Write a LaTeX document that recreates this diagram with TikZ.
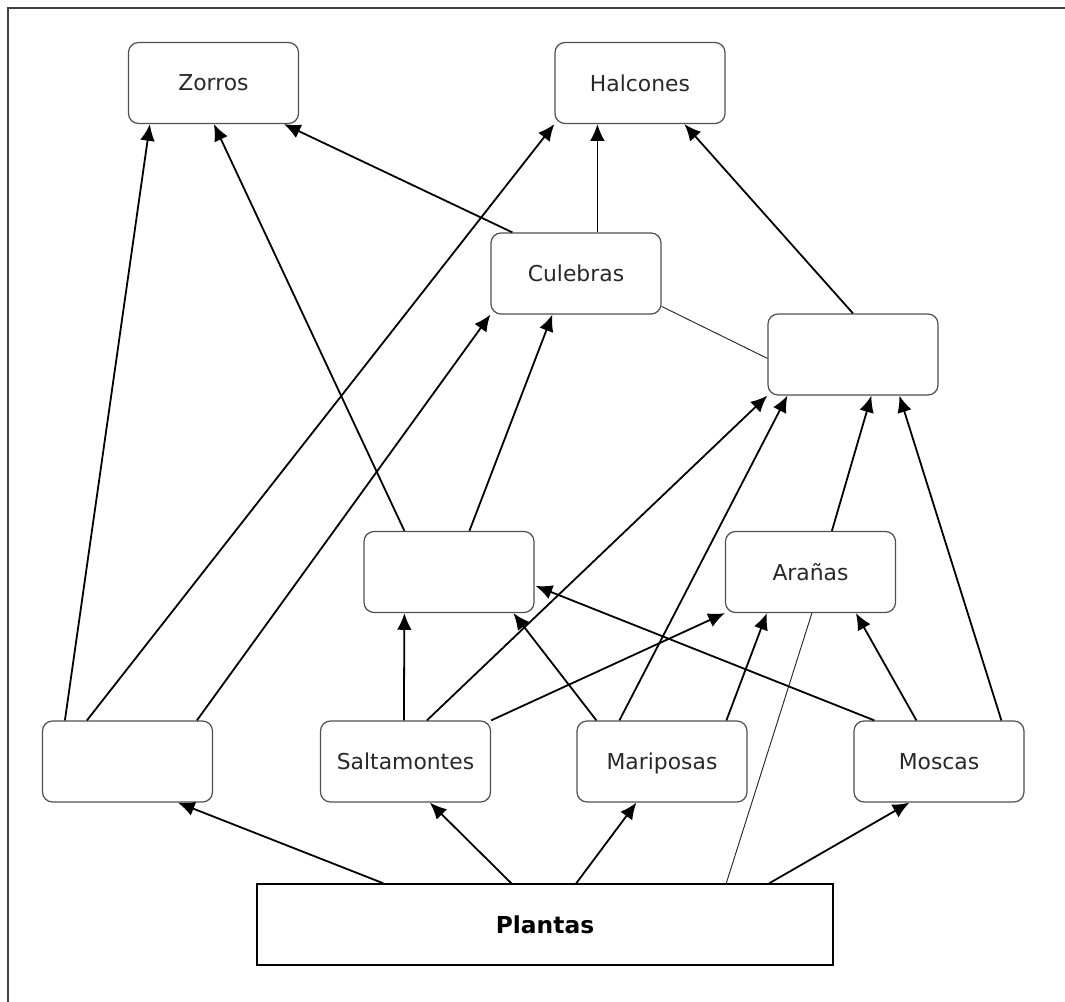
\documentclass[tikz,border=0pt]{standalone}
\usepackage{fontspec}
\setmainfont{DejaVu Sans}
\usetikzlibrary{arrows.meta,calc}
\definecolor{boxgray}{RGB}{80,80,80}
\definecolor{txtgray}{RGB}{40,40,40}
\begin{document}
\begin{tikzpicture}[x=0.75pt,y=-0.75pt,
  box/.style={draw=boxgray, line width=0.9pt, rounded corners=7.5pt,
    minimum width=127.5pt, minimum height=60.75pt, inner sep=0pt,
    text depth=0pt, font=\fontsize{16.4}{19}\selectfont, text=txtgray},
  base/.style={draw=black, line width=1.1pt, minimum width=432pt,
    minimum height=60.75pt, inner sep=0pt, text depth=0pt,
    font=\bfseries\fontsize{17.5}{21}\selectfont},
  arr/.style={-{Latex[length=12.5pt,width=11pt]}, line width=1.35pt},
  thinline/.style={line width=0.7pt, draw=black!85},
  frame/.style={line width=1.1pt, draw=black!75}]
\useasboundingbox (0,0) rectangle (1065,1002);
\draw[frame] (8,1002) -- (8,8) -- (1065,8);

\node[box] (zor) at (213.5,83) {Zorros};
\node[box] (hal) at (640,83) {Halcones};
\node[box] (cul) at (576,273.5) {Culebras};
\node[box] (rem) at (853,354.5) {};
\node[box] (mem) at (449,572) {};
\node[box] (ara) at (810.5,572) {Arañas};
\node[box] (lem) at (127.5,761.5) {};
\node[box] (sal) at (405.5,761.5) {Saltamontes};
\node[box] (mar) at (662,761.5) {Mariposas};
\node[box] (mos) at (939,761.5) {Moscas};
\node[base] (pla) at (545,924.5) {Plantas};

% from Plantas
\draw[arr] ($(pla.north west)+(127,0)$) -- ($(lem.south west)+(136,0)$);
\draw[arr] ($(pla.north west)+(255,0)$) -- ($(sal.south west)+(110,0)$);
\draw[arr] ($(pla.north west)+(320,0)$) -- ($(mar.south west)+(60,0)$);
\draw[arr] ($(pla.north west)+(513,0)$) -- ($(mos.south west)+(56,0)$);
\draw[thinline] ($(pla.north west)+(470,0)$) -- ($(ara.south west)+(87,0)$);

% from left empty box
\draw[arr] ($(lem.north west)+(23,0)$) -- ($(zor.south west)+(22,0)$);
\draw[arr] ($(lem.north west)+(45,0)$) -- (hal.south west);
\draw[arr] ($(lem.north west)+(155,0)$) -- (cul.south west);

% from middle empty box
\draw[arr] ($(mem.north west)+(41,0)$) -- ($(zor.south west)+(86,0)$);
\draw[arr] ($(mem.north west)+(106,0)$) -- ($(cul.south west)+(62,0)$);

% from Saltamontes
\draw[arr] ($(sal.north west)+(84,0)$) -- ($(mem.south west)+(41,0)$);
\draw[arr] ($(sal.north west)+(107,0)$) -- (rem.south west);
\draw[arr] (sal.north east) -- (ara.south west);

% from Mariposas
\draw[arr] ($(mar.north west)+(20,0)$) -- ($(mem.south west)+(150,0)$);
\draw[arr] ($(mar.north west)+(43,0)$) -- ($(rem.south west)+(20,0)$);
\draw[arr] ($(mar.north west)+(150,0)$) -- ($(ara.south west)+(42,0)$);

% from Moscas
\draw[arr] ($(mos.north west)+(21,0)$) -- ($(mem.north east)+(1,55)$);
\draw[arr] ($(mos.north west)+(63,0)$) -- ($(ara.south west)+(131,0)$);
\draw[arr] ($(mos.north west)+(148,0)$) -- ($(rem.south west)+(132,0)$);

% from Arañas
\draw[arr] ($(ara.north west)+(107,0)$) -- ($(rem.south west)+(104,0)$);

% from Culebras
\draw[arr] ($(cul.north west)+(22,0)$) -- ($(zor.south west)+(156,0)$);
\draw[arr] ($(cul.north west)+(107,0)$) -- ($(hal.south west)+(43,0)$);
\draw[thinline] ($(cul.north east)+(0,74)$) -- ($(rem.north west)+(0,45)$);

% from right empty box
\draw[arr] (rem.north) -- ($(hal.south west)+(130,0)$);
\end{tikzpicture}
\end{document}
